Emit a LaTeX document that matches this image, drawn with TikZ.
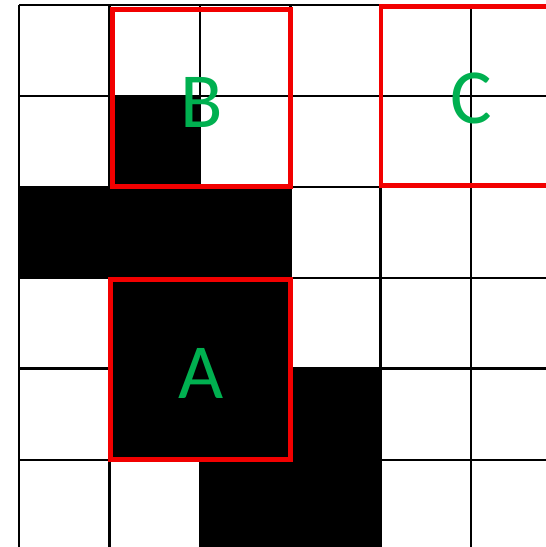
\documentclass[tikz,border=0pt]{standalone}
\usepackage{fontspec}
\setmainfont{Carlito}
\definecolor{lblgreen}{RGB}{0,176,80}
\begin{document}
\begin{tikzpicture}[x=1pt,y=-1pt,
  gridline/.style={line width=2.6pt,black},
  redbox/.style={line width=4.2pt,red!95!black},
  cellfill/.style={fill=black},
  lbl/.style={text=lblgreen,font=\fontsize{78}{78}\selectfont,inner sep=0pt}]
\useasboundingbox (0,0) rectangle (546,547);
\clip (0,0) rectangle (546,547);
% black cells
\fill[cellfill] (109.4,96) rectangle (199.8,187);
\fill[cellfill] (19,187) rectangle (288.5,278);
\fill[cellfill] (109.4,278) rectangle (290.2,369);
\fill[cellfill] (109.4,368) rectangle (380.6,460);
\fill[cellfill] (199.8,460) rectangle (380.6,560);
% grid
\foreach \x in {19,109.4,199.8,290.2,380.6,471} \draw[gridline] (\x,5) -- (\x,560);
\foreach \y in {5,96,187,278,368.5,460} \draw[gridline] (19,\y) -- (560,\y);
% red boxes
\draw[redbox] (112.5,9.5) rectangle (290.5,186.5);
\draw[redbox] (110.5,279.5) rectangle (290.5,459.5);
\draw[redbox] (381,6.5) rectangle (570,185.5);
% labels
\node[lbl] (B) at (202,102) {B};
\node[lbl] (A) at (201,373) {A};
\node[lbl] (C) at (471,98) {C};
\end{tikzpicture}
\end{document}
